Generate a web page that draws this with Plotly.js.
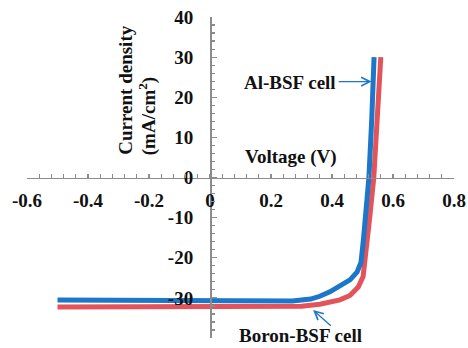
<!DOCTYPE html>
<html>
<head>
<meta charset="utf-8">
<script src="https://cdn.plot.ly/plotly-3.0.1.min.js"></script>
<style>html,body{margin:0;padding:0;background:#fff;}#chart{width:468px;height:348px;}</style>
</head>
<body>
<div id="chart"></div>
<script>
// Data
var alV = [-0.5, -0.4, -0.3, -0.2, -0.1, 0, 0.1, 0.2, 0.27, 0.33, 0.36, 0.393, 0.426, 0.459, 0.482, 0.495, 0.503, 0.512, 0.521, 0.53, 0.538];
var alJ = [-30.5, -30.5, -30.5, -30.5, -30.5, -30.5, -30.5, -30.6, -30.8, -30.3, -29.6, -28.5, -27.1, -25.5, -23.6, -21.2, -15.5, -7.5, 0, 14, 30];
var boronV = [-0.5, -0.4, -0.3, -0.2, -0.1, 0, 0.1, 0.2, 0.3, 0.36, 0.393, 0.426, 0.459, 0.486, 0.502, 0.513, 0.525, 0.537, 0.547, 0.56];
var boronJ = [-32.3, -32.3, -32.3, -32.3, -32.3, -32.3, -32.3, -32.3, -32.1, -31.6, -31.2, -30.5, -29.4, -27.3, -24.7, -18, -9, 0, 12, 30];

var xTickVals = [-0.6, -0.4, -0.2, 0, 0.2, 0.4, 0.6, 0.8];
var xTickText = ['-0.6', '-0.4', '-0.2', '0', '0.2', '0.4', '0.6', '0.8'];
var yTickVals = [-40, -30, -20, -10, 0, 10, 20, 30, 40];
var yTickText = ['-40', '-30', '-20', '-10', '0', '10', '20', '30', '40'];

var seriesNames = ['Al-BSF cell', 'Boron-BSF cell'];
var xTitle = 'Voltage (V)';
var yTitleLine1 = 'Current density';
var yTitleLine2 = '(mA/cm<sup>2</sup>)';

var BLUE = '#1c76c9';
var RED = '#e3545a';
var GREY = '#8c8c8c';
var FONT = '"Liberation Serif", "Times New Roman", Times, serif';
var TXT = {family: FONT, size: 19, color: '#111', weight: 'bold'};

var traces = [
  {x: boronV, y: boronJ, type: 'scatter', mode: 'lines', name: seriesNames[1],
   line: {color: RED, width: 5}},
  {x: alV, y: alJ, type: 'scatter', mode: 'lines', name: seriesNames[0],
   line: {color: BLUE, width: 5}},
  // invisible helper trace so the minor-tick axes are drawn
  {x: [-0.6, 0.8], y: [-40, 40], xaxis: 'x2', yaxis: 'y2', mode: 'lines', line: {width: 0}, hoverinfo: 'skip', showlegend: false}
];

var layout = {
  width: 468, height: 348,
  margin: {l: 27, r: 14, t: 17, b: 10},
  paper_bgcolor: '#fff', plot_bgcolor: '#fff',
  showlegend: false,
  font: TXT,
  xaxis: {
    range: [-0.6, 0.8], anchor: 'free', position: 0.5,
    showgrid: false, zeroline: false, showline: true, linecolor: GREY, linewidth: 1.5,
    tickmode: 'array', tickvals: xTickVals, ticktext: xTickText,
    ticks: 'inside', ticklen: 4, tickcolor: GREY, tickwidth: 1.2,
    ticklabelstandoff: 5,
    tickfont: TXT
  },
  yaxis: {
    range: [-40, 40], anchor: 'free', position: 0.6 / 1.4,
    showgrid: false, zeroline: false, showline: true, linecolor: GREY, linewidth: 1.5,
    tickmode: 'array', tickvals: yTickVals, ticktext: yTickText,
    ticks: 'inside', ticklen: 5, tickcolor: GREY, tickwidth: 1.2,
    ticklabelstandoff: 13,
    tickfont: TXT
  },
  xaxis2: {
    range: [-0.6, 0.8], overlaying: 'x', anchor: 'free', position: 0.5,
    showgrid: false, zeroline: false, showline: false, showticklabels: false,
    tickmode: 'linear', tick0: 0, dtick: 0.04,
    ticks: 'inside', ticklen: 4, tickcolor: GREY, tickwidth: 1.2
  },
  yaxis2: {
    range: [-40, 40], overlaying: 'y', anchor: 'free', position: 0.6 / 1.4,
    showgrid: false, zeroline: false, showline: false, showticklabels: false,
    tickmode: 'linear', tick0: 0, dtick: 2,
    ticks: 'inside', ticklen: 4, tickcolor: GREY, tickwidth: 1.2
  },
  annotations: [
    {x: 0.264, y: 5.1, xref: 'x', yref: 'y', text: xTitle, showarrow: false,
     xanchor: 'center', yanchor: 'middle', font: TXT},
    {x: -0.278, y: 5.1, xref: 'x', yref: 'y', text: yTitleLine1, showarrow: false, textangle: -90,
     xanchor: 'center', yanchor: 'bottom', font: TXT},
    {x: -0.206, y: 5.1, xref: 'x', yref: 'y', text: yTitleLine2, showarrow: false, textangle: -90,
     xanchor: 'center', yanchor: 'bottom', font: TXT},
    {x: 0.261, y: 23.8, xref: 'x', yref: 'y', text: seriesNames[0], showarrow: false,
     xanchor: 'center', yanchor: 'middle', font: TXT},
    {x: 0.530, y: 23.9, xref: 'x', yref: 'y', ax: 0.417, ay: 23.9, axref: 'x', ayref: 'y', text: '',
     showarrow: true, arrowhead: 5, arrowsize: 1.3, arrowwidth: 1.3, arrowcolor: BLUE, standoff: 0},
    {x: 0.296, y: -0.031, xref: 'x', yref: 'paper', text: seriesNames[1], showarrow: false,
     xanchor: 'center', yanchor: 'bottom', font: TXT},
    {x: 0.338, y: -33.0, xref: 'x', yref: 'y', ax: 0.401, ay: -37.3, axref: 'x', ayref: 'y', text: '',
     showarrow: true, arrowhead: 5, arrowsize: 1.3, arrowwidth: 1.3, arrowcolor: BLUE, standoff: 0}
  ]
};

Plotly.newPlot('chart', traces, layout, {displayModeBar: false, staticPlot: true});
</script>
</body>
</html>
